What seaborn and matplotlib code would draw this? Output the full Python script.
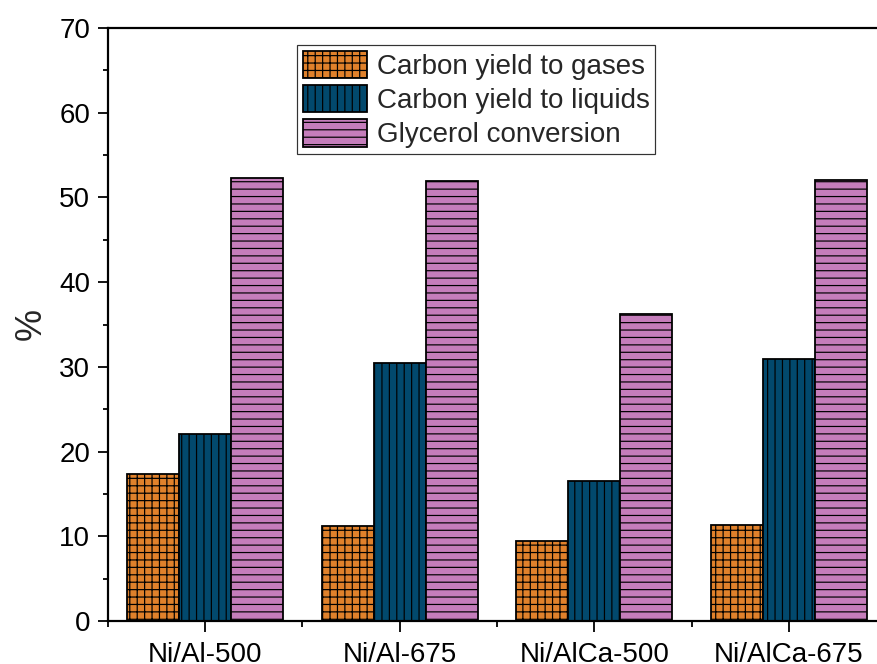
import numpy as np
import pandas as pd
import matplotlib
matplotlib.use("Agg")
import matplotlib.pyplot as plt
from matplotlib.ticker import MultipleLocator, FixedLocator
import seaborn as sns

catalysts = ["Ni/Al-500", "Ni/Al-675", "Ni/AlCa-500", "Ni/AlCa-675"]
yield_gases = [17.4, 11.2, 9.4, 11.3]
yield_liquids = [22.1, 30.4, 16.5, 30.9]
glycerol_conversion = [52.3, 51.9, 36.2, 52.0]

series_names = ["Carbon yield to gases", "Carbon yield to liquids", "Glycerol conversion"]
series_colors = ["#E0812B", "#02496D", "#C57DBB"]
series_hatches = ["++", "||", "--"]

df = pd.DataFrame({
    "catalyst": catalysts * 3,
    "value": yield_gases + yield_liquids + glycerol_conversion,
    "series": [s for s in series_names for _ in catalysts],
})

DPI = 89
def px(v):
    return v * 72.0 / DPI

sns.set_style("ticks")
plt.rcParams["font.family"] = ["Liberation Sans", "DejaVu Sans"]
plt.rcParams["hatch.linewidth"] = px(1.2)
plt.rcParams["hatch.color"] = "#111111"

FS = px(27.8)

fig = plt.figure(figsize=(877 / DPI, 664 / DPI), dpi=DPI)
ax = fig.add_axes([107.7 / 877, 43 / 664, (886.3 - 107.7) / 877, (621 - 28) / 664])

sns.barplot(data=df, x="catalyst", y="value", hue="series", hue_order=series_names,
            palette=series_colors, width=0.8, gap=0, saturation=1, legend=False,
            edgecolor="black", linewidth=px(1.8), ax=ax)

for cont, h in zip(ax.containers, series_hatches):
    for bar in cont:
        bar.set_hatch(h)
        bar.set_edgecolor("black")

ax.set_xlim(-0.5, 3.5)
ax.set_ylim(0, 70)
ax.yaxis.set_major_locator(MultipleLocator(10))
ax.yaxis.set_minor_locator(MultipleLocator(5))
ax.xaxis.set_minor_locator(FixedLocator([-0.5, 0.5, 1.5, 2.5, 3.5]))

ax.set_xlabel("")
ax.set_ylabel("%", fontsize=px(36), labelpad=px(10))
ax.tick_params(axis="both", which="major", direction="out", length=px(10.5),
               width=px(1.8), labelsize=FS, pad=px(7), color="black", labelcolor="black")
ax.tick_params(axis="both", which="minor", direction="out", length=px(5.5),
               width=px(1.8), color="black")
ax.tick_params(axis="x", which="major", pad=px(10))

for side in ["left", "bottom", "top", "right"]:
    ax.spines[side].set_visible(True)
    ax.spines[side].set_linewidth(px(2.2))
    ax.spines[side].set_color("black")

leg = ax.legend(ax.containers, series_names, loc="upper left",
                bbox_to_anchor=(297 / 877, 1 - 45 / 664), bbox_transform=fig.transFigure,
                fontsize=FS, frameon=True, fancybox=False, borderaxespad=0,
                borderpad=0.2, handlelength=2.3, handleheight=1.15,
                handletextpad=0.38, labelspacing=0.18)
leg.get_frame().set_edgecolor("#333333")
leg.get_frame().set_linewidth(px(1.2))
leg.get_frame().set_alpha(1)

fig.savefig("out.png", dpi=DPI)
